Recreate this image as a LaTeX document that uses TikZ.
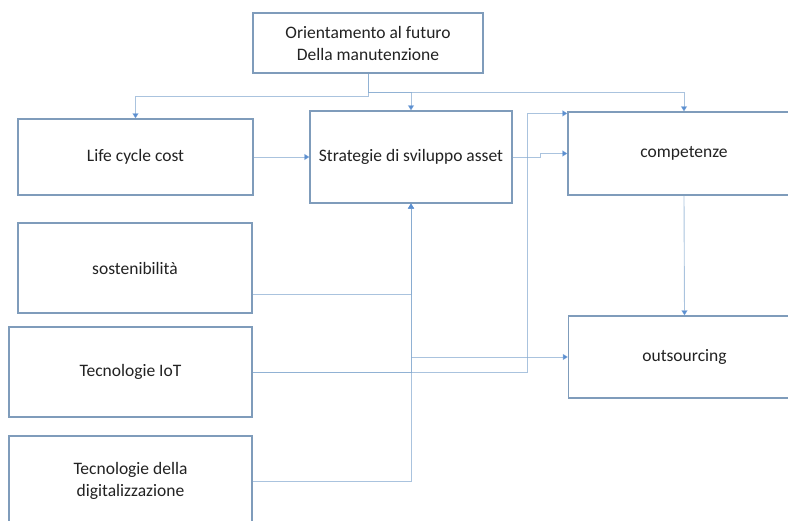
\documentclass[tikz,border=0pt]{standalone}
\usepackage{fontspec}
\setmainfont{Carlito}
\usepackage{tikz}
\usetikzlibrary{arrows.meta}
\definecolor{cnedge}{HTML}{7F9CBB}
\definecolor{cnlink}{HTML}{86AAD0}
\definecolor{cnarrow}{HTML}{5B8FD0}
\definecolor{cntext}{HTML}{222222}

\begin{document}
\begin{tikzpicture}[x=1pt, y=-1pt,
  box/.style={draw=cnedge, line width=1.2pt, fill=white, inner sep=1pt, align=center, text=cntext, font=\fontsize{17.5}{22}\selectfont},
  wire/.style={draw=cnlink, draw opacity=0.7, line width=0.9pt},
  feed/.style={wire, -{Triangle[width=6pt, length=5pt, color=cnarrow]}}]
  \useasboundingbox (0,0) rectangle (788,521);
  \clip (0,0) rectangle (788,521);
  \node[box, minimum width=230pt, minimum height=60pt] (top) at (368,43) {Orientamento al futuro\\Della manutenzione};
  \node[box, minimum width=235pt, minimum height=76pt] (life) at (135.5,157) {Life cycle cost};
  \node[box, minimum width=234pt, minimum height=90pt] (sost) at (135,268) {sostenibilità};
  \node[box, minimum width=243pt, minimum height=90pt] (iot) at (130.5,372) {Tecnologie IoT};
  \node[box, minimum width=243pt, minimum height=90pt] (digit) at (130.5,481) {Tecnologie della\\digitalizzazione};
  \node[box, minimum width=202pt, minimum height=92pt] (strat) at (411,157) {Strategie di sviluppo asset};
  \node[box, minimum width=232pt, minimum height=83pt] (comp) at (684,153.5) {competenze};
  \node[box, minimum width=232pt, minimum height=82pt] (outs) at (684.5,357) {outsourcing};
  % from the top box
  \coordinate (split) at (368,96);
  \coordinate (tee) at (368,92);
  \draw[feed] (top.south) -- (split) -| (life.north);
  \draw[feed] (top.south) -- (tee) -| (strat.north);
  \draw[feed] (tee) -| (comp.north);
  % first row
  \draw[feed] (life.east) -- (strat.west);
  \draw[feed] (strat.east) -- ++(28,0) |- (comp.west);
  % left column into the strategy box
  \draw[feed] ([yshift=-26pt]sost.east) -| (strat.south);
  \draw[feed] (iot.east) -| (strat.south);
  \draw[feed] (digit.east) -| (strat.south);
  \draw[feed] (strat.south |- outs.west) -- (outs.west);
  \draw[feed] (iot.east) -- ++(275,0) |- ([yshift=-2pt]comp.north west);
  \draw[feed] (comp.south) -- (outs.north);
\end{tikzpicture}
\end{document}
